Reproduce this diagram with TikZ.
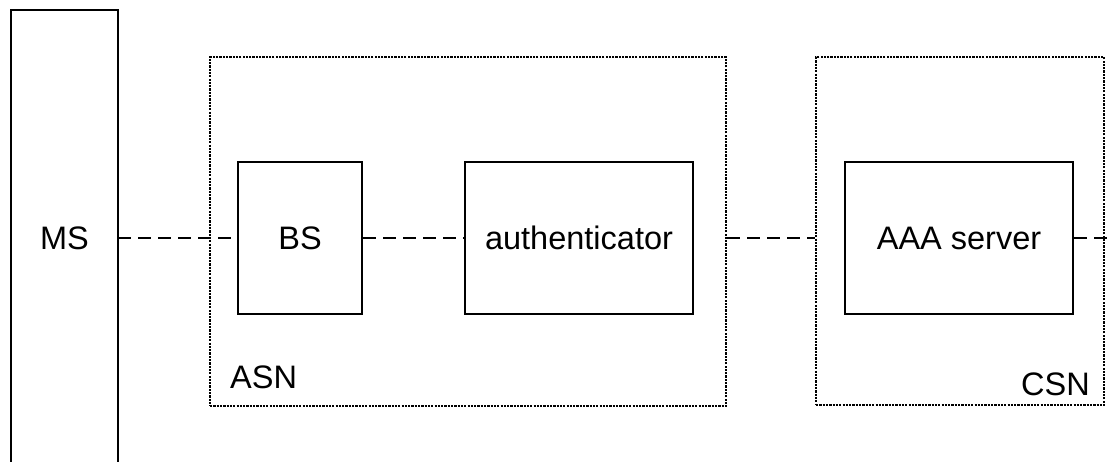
\documentclass[tikz,border=0pt]{standalone}
\usepackage{fontspec}
\setmainfont{Liberation Sans}
\begin{document}
\begin{tikzpicture}[x=1pt,y=-1pt,
  lbl/.style={font=\fontsize{32.5}{39}\selectfont, inner sep=0pt},
  solidbox/.style={draw, line width=2.5pt, rectangle, inner sep=0pt},
  zone/.style={draw, line width=2.2pt, dash pattern=on 2.2pt off 1.1pt, rectangle, inner sep=0pt},
  link/.style={line width=2.6pt, dash pattern=on 12.5pt off 7.5pt}]
\useasboundingbox (0,0) rectangle (1113,462);
\clip (0,0) rectangle (1113,462);
% zones
\node[zone, minimum width=516pt, minimum height=349pt, anchor=north west] (asn) at (209,56) {};
\node[zone, minimum width=288pt, minimum height=348pt, anchor=north west] (csn) at (815,56) {};
\node[lbl, anchor=base west] (asnl) at (230,388) {ASN};
\node[lbl, anchor=base east] (csnl) at (1090,395) {CSN};
% MS (open at the bottom)
\node[lbl] (ms) at (64.5,238) {MS};
\coordinate (mstl) at (11,10);
\coordinate (mstr) at (118,10);
\draw[line width=2.5pt] (mstl |- 0,470) -- (mstl) -- (mstr) -- (mstr |- 0,470);
\coordinate (msr) at (118,238);
% boxes
\node[solidbox, lbl, minimum width=124pt, minimum height=152pt] (bs) at (300,238) {BS};
\node[solidbox, lbl, minimum width=228pt, minimum height=152pt] (auth) at (579,238) {authenticator};
\node[solidbox, lbl, minimum width=228pt, minimum height=152pt] (aaa) at (959,238) {AAA server};
\coordinate (edge) at (1116,238);
% links
\draw[link] (msr) -- (bs.west);
\draw[link] (bs.east) -- (auth.west);
\draw[link] (asn.east |- auth.east) -- (csn.west |- aaa.west);
\draw[link] (aaa.east) -- (edge);
\end{tikzpicture}
\end{document}
